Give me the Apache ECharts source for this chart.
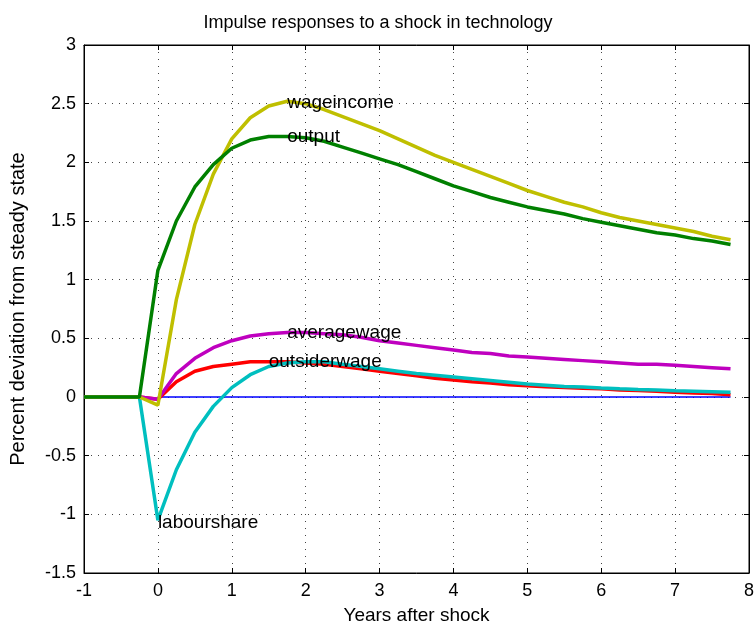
<!DOCTYPE html>
<html>
<head>
<meta charset="utf-8">
<script src="https://cdn.jsdelivr.net/npm/echarts@6/dist/echarts.min.js"></script>
<style>
  html, body { margin: 0; padding: 0; background: #fff; }
  #main { width: 756px; height: 625px; }
</style>
</head>
<body>
<div id="main"></div>
<script>
// quarters from -1 to 7.75 years
var years = [-1, -0.75, -0.5, -0.25, 0, 0.25, 0.5, 0.75, 1, 1.25, 1.5, 1.75, 2, 2.25, 2.5, 2.75,
  3, 3.25, 3.5, 3.75, 4, 4.25, 4.5, 4.75, 5, 5.25, 5.5, 5.75, 6, 6.25, 6.5, 6.75, 7, 7.25, 7.5, 7.75];

var output = [0, 0, 0, 0, 1.08, 1.50, 1.79, 1.98, 2.12, 2.19, 2.22, 2.22, 2.21, 2.18, 2.13, 2.08,
  2.03, 1.98, 1.92, 1.86, 1.80, 1.75, 1.70, 1.66, 1.62, 1.59, 1.56, 1.52, 1.49, 1.46, 1.43, 1.40, 1.38, 1.35, 1.33, 1.30];
var wageincome = [0, 0, 0, 0, -0.07, 0.83, 1.47, 1.90, 2.20, 2.38, 2.48, 2.52, 2.50, 2.45, 2.39, 2.33,
  2.27, 2.20, 2.13, 2.06, 2.00, 1.94, 1.88, 1.82, 1.76, 1.71, 1.66, 1.62, 1.57, 1.53, 1.50, 1.47, 1.44, 1.41, 1.37, 1.34];
var averagewage = [0, 0, 0, 0, -0.02, 0.20, 0.33, 0.42, 0.48, 0.52, 0.54, 0.55, 0.55, 0.54, 0.53, 0.51,
  0.48, 0.46, 0.44, 0.42, 0.40, 0.38, 0.37, 0.35, 0.34, 0.33, 0.32, 0.31, 0.30, 0.29, 0.28, 0.28, 0.27, 0.26, 0.25, 0.24];
var outsiderwage = [0, 0, 0, 0, -0.02, 0.13, 0.22, 0.26, 0.28, 0.30, 0.30, 0.30, 0.29, 0.28, 0.26, 0.24,
  0.22, 0.20, 0.18, 0.16, 0.145, 0.13, 0.12, 0.105, 0.095, 0.087, 0.08, 0.075, 0.07, 0.06, 0.055, 0.05, 0.04, 0.035, 0.03, 0.02];
var labourshare = [0, 0, 0, 0, -1.05, -0.62, -0.30, -0.08, 0.08, 0.19, 0.26, 0.29, 0.30, 0.30, 0.28, 0.26,
  0.24, 0.22, 0.20, 0.185, 0.17, 0.155, 0.14, 0.125, 0.11, 0.10, 0.09, 0.085, 0.077, 0.07, 0.064, 0.06, 0.054, 0.05, 0.045, 0.04];

// text labels placed in data coordinates
var labelNames = ["wageincome", "output", "averagewage", "outsiderwage", "labourshare"];
var labelX = [1.75, 1.75, 1.75, 1.5, 0];
var labelY = [2.51, 2.22, 0.545, 0.30, -1.07];

var fontFam = "Liberation Sans, Arial, sans-serif";

function pairs(vals) {
  return years.map(function (x, i) { return [x, vals[i]]; });
}
// zero line starts at the shock
var zeroLine = years.filter(function (x) { return x >= 0; }).map(function (x) { return [x, 0]; });

function lineSeries(name, vals, color, z) {
  return {
    name: name,
    type: "line",
    data: pairs(vals),
    showSymbol: false,
    symbol: "none",
    z: z,
    lineStyle: { color: color, width: 3.5 }
  };
}

var myChart = echarts.init(document.getElementById("main"), null, { renderer: "canvas" });

var tickStyle = { show: true, inside: true, length: 5, lineStyle: { color: "#000" } };
var dotted = { show: true, lineStyle: { color: "#444", width: 1, type: [1, 6] } };

var option = {
  animation: false,
  backgroundColor: "#fff",
  title: {
    text: "Impulse responses to a shock in technology",
    left: "center",
    top: 9,
    textStyle: { color: "#000", fontFamily: fontFam, fontWeight: "normal", fontSize: 18 }
  },
  grid: {
    left: 84,
    right: 7,
    top: 45,
    bottom: 52,
    outerBoundsMode: "none",
    containLabel: false,
    show: true,
    borderColor: "#000",
    borderWidth: 1
  },
  xAxis: [
    {
      type: "value",
      min: -1,
      max: 8,
      interval: 1,
      name: "Years after shock",
      nameLocation: "middle",
      nameGap: 33,
      nameTextStyle: { color: "#000", fontFamily: fontFam, fontSize: 19 },
      axisLine: { show: true, onZero: false, lineStyle: { color: "#000" } },
      axisTick: tickStyle,
      axisLabel: { color: "#000", fontFamily: fontFam, fontSize: 18, margin: 9 },
      splitLine: dotted
    },
    {
      type: "value",
      position: "top",
      min: -1,
      max: 8,
      interval: 1,
      axisLine: { show: true, onZero: false, lineStyle: { color: "#000" } },
      axisTick: tickStyle,
      axisLabel: { show: false },
      splitLine: { show: false }
    }
  ],
  yAxis: [
    {
      type: "value",
      min: -1.5,
      max: 3,
      interval: 0.5,
      name: "Percent deviation from steady state",
      nameLocation: "middle",
      nameGap: 56,
      nameTextStyle: { color: "#000", fontFamily: fontFam, fontSize: 20 },
      axisLine: { show: true, onZero: false, lineStyle: { color: "#000" } },
      axisTick: tickStyle,
      axisLabel: { color: "#000", fontFamily: fontFam, fontSize: 18, margin: 8 },
      splitLine: dotted
    },
    {
      type: "value",
      position: "right",
      min: -1.5,
      max: 3,
      interval: 0.5,
      axisLine: { show: true, onZero: false, lineStyle: { color: "#000" } },
      axisTick: tickStyle,
      axisLabel: { show: false },
      splitLine: { show: false }
    }
  ],
  series: [
    {
      name: "zero",
      type: "line",
      data: zeroLine,
      symbol: "none",
      z: 1,
      lineStyle: { color: "#0000ff", width: 1.5 }
    },
    lineSeries("outsiderwage", outsiderwage, "#ff0000", 2),
    lineSeries("labourshare", labourshare, "#00bfbf", 3),
    lineSeries("averagewage", averagewage, "#bf00bf", 4),
    lineSeries("wageincome", wageincome, "#bfbf00", 5),
    lineSeries("output", output, "#008000", 6),
    {
      name: "labels",
      type: "scatter",
      symbolSize: 0,
      z: 10,
      itemStyle: { opacity: 1 },
      data: labelNames.map(function (n, i) { return [labelX[i], labelY[i], n]; }),
      label: {
        show: true,
        position: "right",
        distance: 0,
        color: "#000",
        opacity: 1,
        fontFamily: fontFam,
        fontSize: 19,
        formatter: function (p) { return p.data[2]; }
      }
    }
  ]
};
myChart.setOption(option);
</script>
</body>
</html>
